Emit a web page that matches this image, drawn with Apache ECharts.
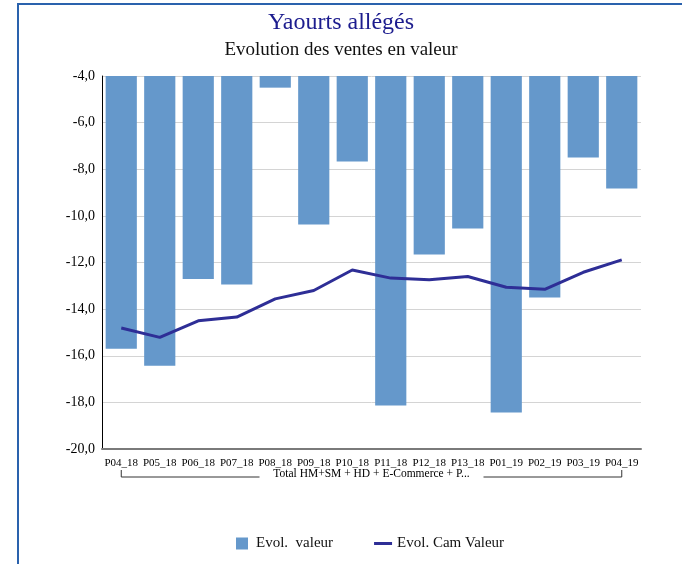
<!DOCTYPE html>
<html><head><meta charset="utf-8">
<script src="https://cdn.jsdelivr.net/npm/echarts@6/dist/echarts.min.js"></script>
<style>
html,body{margin:0;padding:0;background:#fff;}
#c{position:absolute;left:0;top:0;width:682px;height:564px;}
#frame{position:absolute;left:17px;top:3px;width:700px;height:600px;border-left:2px solid #2a62ad;border-top:2px solid #2a62ad;pointer-events:none;}
</style></head>
<body>
<div id="c"></div>
<div id="frame"></div>
<script>
const categories = ['P04_18','P05_18','P06_18','P07_18','P08_18','P09_18','P10_18','P11_18','P12_18','P13_18','P01_19','P02_19','P03_19','P04_19'];
const evolValeur = [-15.70,-16.43,-12.71,-12.94,-4.50,-10.37,-7.67,-18.13,-11.66,-10.54,-18.43,-13.50,-7.50,-8.83];
const evolCamValeur = [-14.81,-15.21,-14.50,-14.34,-13.56,-13.20,-12.32,-12.67,-12.74,-12.60,-13.06,-13.15,-12.42,-11.89];
const groupLabel = 'Total HM+SM + HD + E-Commerce + P...';
const titleText = 'Yaourts allégés';
const subtitleText = 'Evolution des ventes en valeur';
const seriesNames = ['Evol.  valeur','Evol. Cam Valeur'];

const serif = '"Liberation Serif", "DejaVu Serif", serif';
const chart = echarts.init(document.getElementById('c'));
chart.setOption({
  animation:false,
  backgroundColor:'#fff',
  title:[
    {text:titleText,left:'center',top:6,textStyle:{fontFamily:serif,fontSize:24,fontWeight:'normal',color:'#1c1c8e'}},
    {text:subtitleText,left:'center',top:36,textStyle:{fontFamily:serif,fontSize:19,fontWeight:'normal',color:'#111'}}
  ],
  grid:{left:102,right:41,top:76,bottom:115,containLabel:false},
  legend:{
    left:231,top:531,itemWidth:18,itemHeight:12,itemGap:41,
    textStyle:{fontFamily:serif,fontSize:15,color:'#111'},
    data:[
      {name:seriesNames[0],icon:'path://M0,0h12v12h-12z'},
      {name:seriesNames[1],icon:'path://M0,0h18v3h-18z'}
    ]
  },
  xAxis:{
    type:'category',data:categories,
    axisLine:{lineStyle:{color:'#7a7a7a',width:2}},
    axisTick:{show:false},
    axisLabel:{fontFamily:serif,fontSize:11,color:'#000',margin:9,interval:0}
  },
  yAxis:{
    type:'value',min:-20,max:-4,interval:2,
    axisLine:{show:true,lineStyle:{color:'#000',width:1}},
    axisTick:{show:false},
    splitLine:{lineStyle:{color:'#d4d4d4',width:1}},
    axisLabel:{fontFamily:serif,fontSize:14,color:'#000',margin:7,formatter:v=>v.toFixed(1).replace('.',',')}
  },
  series:[
    {name:seriesNames[0],type:'bar',data:evolValeur,barCategoryGap:'19%',itemStyle:{color:'#6598cb'},clip:true},
    {name:seriesNames[1],type:'line',data:evolCamValeur,symbol:'none',lineStyle:{color:'#2e2e96',width:3},itemStyle:{color:'#2e2e96'}}
  ]
});
const x0 = chart.convertToPixel({xAxisIndex:0},categories[0]);
const x1 = chart.convertToPixel({xAxisIndex:0},categories[categories.length-1]);
const yb = 477, yt = 470, gapHalf = 112, xm = (x0+x1)/2;
chart.setOption({
  graphic:[
    {type:'polyline',shape:{points:[[x0,yt],[x0,yb],[xm-gapHalf,yb]]},style:{stroke:'#333',lineWidth:1,fill:null},silent:true},
    {type:'polyline',shape:{points:[[xm+gapHalf,yb],[x1,yb],[x1,yt]]},style:{stroke:'#333',lineWidth:1,fill:null},silent:true},
    {type:'text',x:xm,y:474,style:{text:groupLabel,fontFamily:serif,fontSize:11.5,fill:'#000',align:'center',verticalAlign:'middle'},silent:true}
  ]
});
</script>
</body></html>
